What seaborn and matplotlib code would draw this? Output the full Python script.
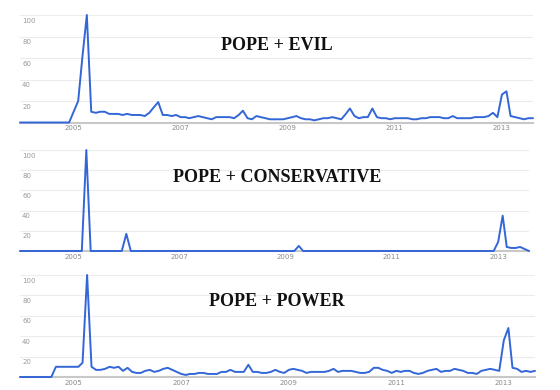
import pandas as pd
import matplotlib
matplotlib.use('Agg')
import matplotlib.pyplot as plt
import seaborn as sns

# monthly search interest, Jan 2004 - Aug 2013
MONTHS = pd.date_range('2004-01-01', periods=116, freq='MS')

EVIL = [0, 0, 0, 0, 0, 0, 0, 0, 0, 0, 0, 0,
        10, 20, 60, 100, 10, 9, 10, 10, 8, 8, 8, 7,
        8, 7, 7, 7, 6, 9, 14, 19, 7, 7, 6, 7,
        5, 5, 4, 5, 6, 5, 4, 3, 5, 5, 5, 5,
        4, 7, 11, 4, 3, 6, 5, 4, 3, 3, 3, 3,
        4, 5, 6, 4, 3, 3, 2, 3, 4, 4, 5, 4,
        3, 8, 13, 6, 4, 5, 5, 13, 5, 4, 4, 3,
        4, 4, 4, 4, 3, 3, 4, 4, 5, 5, 5, 4,
        4, 6, 4, 4, 4, 4, 5, 5, 5, 6, 9, 5,
        26, 29, 6, 5, 4, 3, 4, 4]

CONSERVATIVE = [0] * 116
CONSERVATIVE[15] = 100
CONSERVATIVE[24] = 17
CONSERVATIVE[63] = 5
CONSERVATIVE[108:116] = [9, 35, 4, 3, 3, 4, 2, 0]

POWER = [0, 0, 0, 0, 0, 0, 0, 0, 10, 10, 10, 10,
         10, 10, 14, 100, 10, 7, 7, 8, 10, 9, 10, 6,
         9, 5, 4, 4, 6, 7, 5, 6, 8, 9, 7, 5,
         3, 2, 3, 3, 4, 4, 3, 3, 3, 5, 5, 7,
         5, 5, 5, 12, 5, 5, 4, 4, 5, 7, 5, 4,
         7, 8, 7, 6, 4, 5, 5, 5, 5, 6, 8, 5,
         6, 6, 6, 5, 4, 4, 5, 9, 9, 7, 6, 4,
         6, 5, 6, 6, 4, 3, 4, 6, 7, 8, 5, 6,
         6, 8, 7, 6, 4, 4, 3, 6, 7, 8, 7, 6,
         36, 48, 9, 8, 5, 6, 5, 6]

TITLES = ['POPE + EVIL', 'POPE + CONSERVATIVE', 'POPE + POWER']
Y_TICKS = [20, 40, 60, 80, 100]
X_TICK_YEARS = [2005, 2007, 2009, 2011, 2013]

LINE_COLOR = '#3366d6'


def draw_panel(fig, rect, values, title, title_y):
    ax = fig.add_axes(rect)
    df = pd.DataFrame({'month': MONTHS, 'value': values})
    sns.lineplot(data=df, x='month', y='value', ax=ax, color=LINE_COLOR,
                 linewidth=1.4, clip_on=False, zorder=3)
    ax.set_xlim(MONTHS[0], MONTHS[-1])
    ax.set_ylim(0, 100)
    ax.set_xlabel('')
    ax.set_ylabel('')

    # gridlines at 20..100 with labels inside the plot
    for v in Y_TICKS:
        ax.axhline(v, color='#ececec', linewidth=0.8, zorder=1)
        ax.text(0.004, v - 2.5, str(v), transform=ax.get_yaxis_transform(),
                fontsize=5, color='#9a9a9a', ha='left', va='top')
    ax.set_yticks([])

    ticks = [pd.Timestamp(f'{y}-01-01') for y in X_TICK_YEARS]
    ax.set_xticks(ticks)
    ax.set_xticklabels([str(y) for y in X_TICK_YEARS], fontsize=5, color='#8a8a8a')
    ax.tick_params(axis='x', length=0, pad=2)

    for s in ['top', 'right', 'left']:
        ax.spines[s].set_visible(False)
    ax.spines['bottom'].set_color('#c8c8c8')
    ax.spines['bottom'].set_linewidth(1.5)
    ax.patch.set_alpha(0)

    fig.text(0.495, title_y, title, fontsize=13, fontweight='bold',
             family='Liberation Serif', ha='center', va='center', color='#111111')
    return ax


def main():
    sns.set_style('white')
    plt.rcParams['font.family'] = ['DejaVu Sans']
    fig = plt.figure(figsize=(5.6, 3.9), dpi=100)

    draw_panel(fig, [20 / 560, 1 - 122.5 / 390, 513 / 560, 107.5 / 390],
               EVIL, TITLES[0], 1 - 46 / 390)
    draw_panel(fig, [20 / 560, 1 - 251 / 390, 509 / 560, 101 / 390],
               CONSERVATIVE, TITLES[1], 1 - 178 / 390)
    draw_panel(fig, [20 / 560, 1 - 377 / 390, 515 / 560, 102 / 390],
               POWER, TITLES[2], 1 - 302 / 390)

    fig.savefig('out.png', dpi=100)


if __name__ == '__main__':
    main()
